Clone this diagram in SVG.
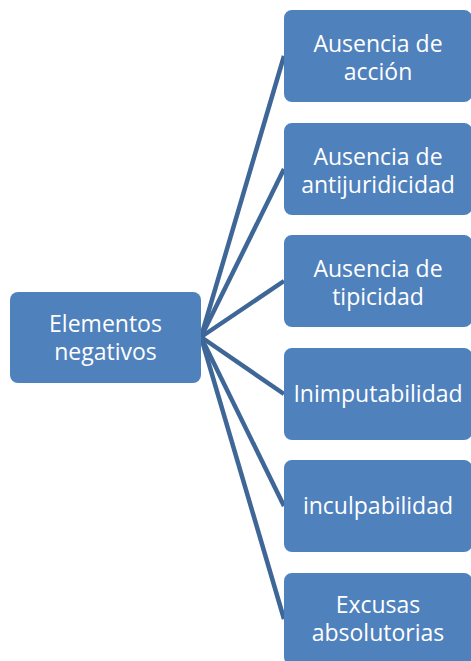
<svg xmlns="http://www.w3.org/2000/svg" width="471" height="661" viewBox="0 0 471 661">
<style>
.box{fill:#4F81BD;}
.t{font-family:"Open Sans","Liberation Sans",sans-serif;font-size:23px;fill:#FFFFFF;text-anchor:middle;}
.c{stroke:#3E6797;stroke-width:4.5;fill:none;stroke-linecap:butt;}
</style>
<rect width="471" height="661" fill="#FFFFFF"/>
<g id="connectors">
<line class="c" x1="201" y1="337" x2="284" y2="56"/>
<line class="c" x1="201" y1="337" x2="284" y2="169"/>
<line class="c" x1="201" y1="337" x2="284" y2="281"/>
<line class="c" x1="201" y1="337" x2="284" y2="394"/>
<line class="c" x1="201" y1="337" x2="284" y2="506"/>
<line class="c" x1="201" y1="337" x2="284" y2="619"/>
</g>
<g id="root">
<rect class="box" x="10" y="292" width="191" height="91" rx="8"/>
<text class="t" x="105.5" y="332">Elementos</text>
<text class="t" x="105.5" y="360">negativos</text>
</g>
<g id="n1">
<rect class="box" x="284" y="10" width="188" height="92" rx="8"/>
<text class="t" x="378" y="52">Ausencia de</text>
<text class="t" x="378" y="80">acción</text>
</g>
<g id="n2">
<rect class="box" x="284" y="123" width="188" height="92" rx="8"/>
<text class="t" x="378" y="165">Ausencia de</text>
<text class="t" x="378" y="193">antijuridicidad</text>
</g>
<g id="n3">
<rect class="box" x="284" y="235" width="188" height="92" rx="8"/>
<text class="t" x="378" y="277">Ausencia de</text>
<text class="t" x="378" y="305">tipicidad</text>
</g>
<g id="n4">
<rect class="box" x="284" y="348" width="188" height="92" rx="8"/>
<text class="t" x="378" y="402">Inimputabilidad</text>
</g>
<g id="n5">
<rect class="box" x="284" y="460" width="188" height="92" rx="8"/>
<text class="t" x="378" y="514">inculpabilidad</text>
</g>
<g id="n6">
<rect class="box" x="284" y="573" width="188" height="92" rx="8"/>
<text class="t" x="378" y="613">Excusas</text>
<text class="t" x="378" y="641">absolutorias</text>
</g>
</svg>
